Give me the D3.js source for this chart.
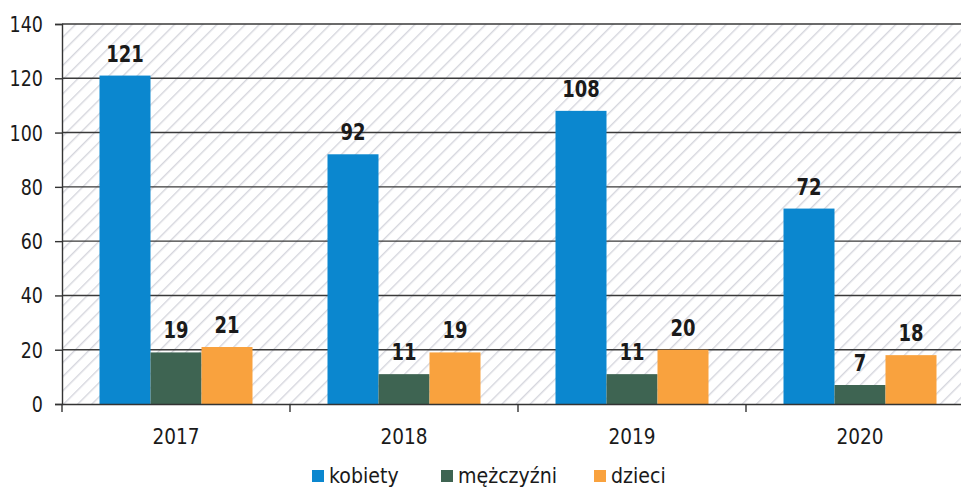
<!DOCTYPE html>
<html>
<head>
<meta charset="utf-8">
<script src="https://cdn.jsdelivr.net/npm/d3@7"></script>
<style>
  html, body { margin: 0; padding: 0; background: #fff; }
  svg { display: block; }
</style>
</head>
<body>
<svg id="chart"></svg>
<script>
const years = ['2017', '2018', '2019', '2020']
const seriesNames = ['kobiety', 'mężczyźni', 'dzieci']
const kobiety = [121, 92, 108, 72]
const mezczyzni = [19, 11, 11, 7]
const dzieci = [21, 19, 20, 18]
const yTicks = [0, 20, 40, 60, 80, 100, 120, 140]
const colors = ['#0b87cf', '#3e6452', '#f9a23e']

const width = 961
const height = 488
const margin = { top: 24, left: 62, bottom: 84, right: -13 }
// scanned text looks a bit taller than wide
const stretch = 1.18

const series = [kobiety, mezczyzni, dzieci]
const rows = years.map((y, i) => ({ year: y, values: series.map((s, j) => ({ key: seriesNames[j], value: s[i] })) }))

const svg = d3.select('#chart').attr('width', width).attr('height', height)

const x = d3.scaleBand().domain(years).range([margin.left, width - margin.right])
const xInner = d3.scaleBand().domain(seriesNames).range([0, 153])
const y = d3.scaleLinear().domain([0, 140]).range([height - margin.bottom, margin.top])

// hatched plot background
const defs = svg.append('defs')
const pat = defs.append('pattern')
  .attr('id', 'hatch')
  .attr('patternUnits', 'userSpaceOnUse')
  .attr('width', 10).attr('height', 10)
  .attr('patternTransform', 'rotate(45)')
pat.append('rect').attr('width', 10).attr('height', 10).attr('fill', '#fff')
pat.append('line')
  .attr('x1', 0).attr('y1', 0).attr('x2', 0).attr('y2', 10)
  .attr('stroke', '#d5d6dd').attr('stroke-width', 2.8)

svg.append('rect')
  .attr('x', margin.left).attr('y', margin.top)
  .attr('width', width - margin.right - margin.left)
  .attr('height', y(0) - margin.top)
  .attr('fill', 'url(#hatch)')

// gridlines
svg.append('g')
  .selectAll('line')
  .data(yTicks.filter((t) => t > 0))
  .join('line')
  .attr('x1', margin.left).attr('x2', width)
  .attr('y1', (d) => y(d)).attr('y2', (d) => y(d))
  .attr('stroke', '#3a3a3a').attr('stroke-width', 1.4)

// bars
const groups = svg.append('g')
  .selectAll('g')
  .data(rows)
  .join('g')
  .attr('transform', (d) => `translate(${x(d.year) + (x.bandwidth() - 153) / 2},0)`)

groups.selectAll('rect')
  .data((d) => d.values)
  .join('rect')
  .attr('x', (d) => xInner(d.key))
  .attr('width', xInner.bandwidth())
  .attr('y', (d) => y(d.value))
  .attr('height', (d) => y(0) - y(d.value))
  .attr('fill', (d, i) => colors[i])

groups.selectAll('text')
  .data((d) => d.values)
  .join('text')
  .attr('transform', (d) => `translate(${xInner(d.key) + xInner.bandwidth() / 2},${y(d.value) - 14}) scale(1,${stretch + 0.05})`)
  .attr('text-anchor', 'middle')
  .attr('font-family', 'DejaVu Sans')
  .attr('font-weight', 'bold')
  .attr('font-size', 18)
  .attr('fill', '#1a1a1a')
  .text((d) => d.value)

// y axis
const yAxis = svg.append('g')
  .attr('transform', `translate(${margin.left},0)`)
  .call(d3.axisLeft(y).tickValues(yTicks).tickSize(7))
yAxis.select('.domain').attr('stroke', '#333').attr('stroke-width', 1.4)
yAxis.selectAll('.tick line').attr('stroke', '#333').attr('stroke-width', 1.4)
yAxis.selectAll('.tick text')
  .attr('x', null).attr('dy', null)
  .attr('transform', `translate(-19,7.5) scale(1,${stretch + 0.05})`)
  .attr('font-family', 'DejaVu Sans')
  .attr('font-size', 17.5)
  .attr('fill', '#1a1a1a')

// x axis
const xAxis = svg.append('g')
  .attr('transform', `translate(0,${y(0)})`)
  .call(d3.axisBottom(x).tickSize(0))
xAxis.select('.domain').attr('stroke', '#333').attr('stroke-width', 1.6)
xAxis.selectAll('.tick text')
  .attr('y', null).attr('dy', null)
  .attr('transform', `translate(0,40) scale(1,${stretch})`)
  .attr('font-family', 'DejaVu Sans')
  .attr('font-size', 18.5)
  .attr('fill', '#1a1a1a')

// category separators
svg.append('g')
  .selectAll('line')
  .data(years)
  .join('line')
  .attr('x1', (d) => x(d)).attr('x2', (d) => x(d))
  .attr('y1', y(0)).attr('y2', y(0) + 8)
  .attr('stroke', '#333').attr('stroke-width', 1.4)

// legend
const legendX = [312, 441, 594]
const legend = svg.append('g')
  .selectAll('g')
  .data(seriesNames)
  .join('g')
  .attr('transform', (d, i) => `translate(${legendX[i]},470)`)
legend.append('rect')
  .attr('width', 12).attr('height', 12)
  .attr('fill', (d, i) => colors[i])
legend.append('text')
  .attr('transform', `translate(17,13) scale(1,${stretch - 0.06})`)
  .attr('font-family', 'DejaVu Sans')
  .attr('font-size', 19)
  .attr('fill', '#1a1a1a')
  .text((d) => d)
</script>
</body>
</html>
